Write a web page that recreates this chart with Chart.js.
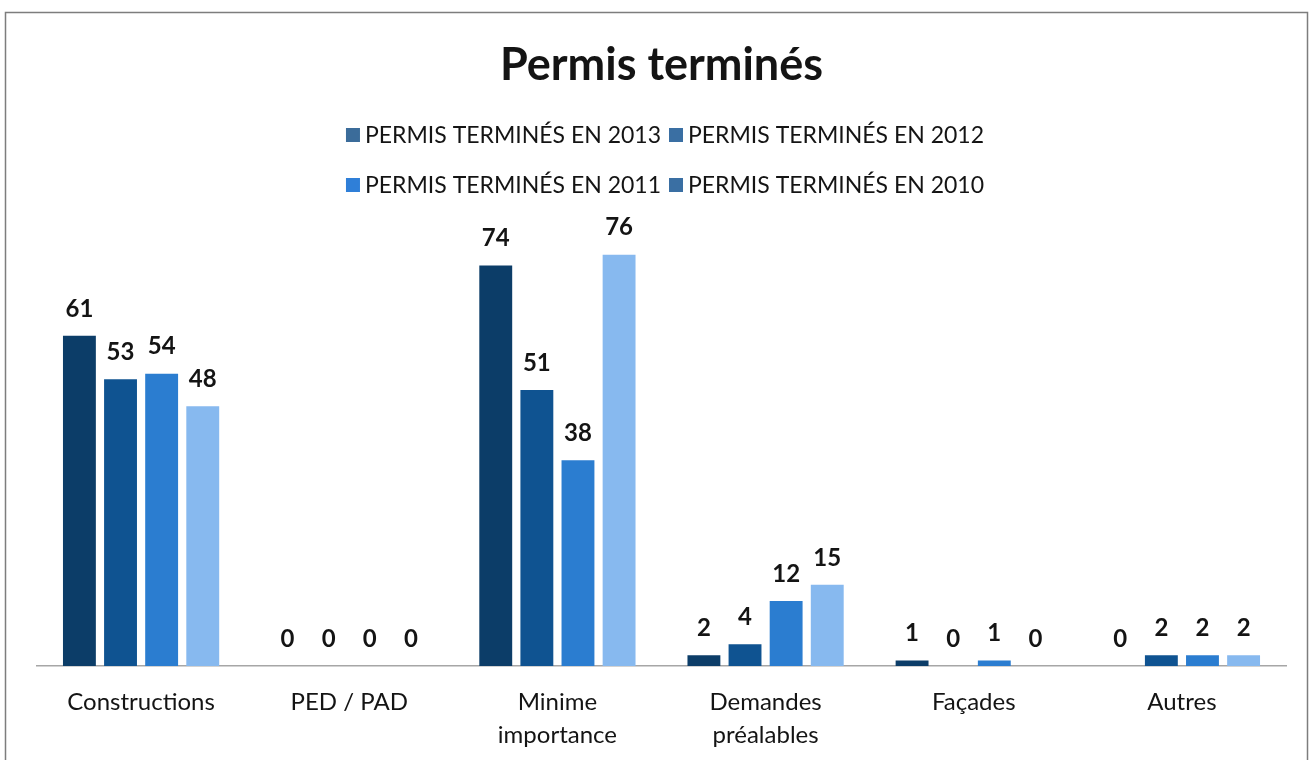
<!DOCTYPE html>
<html>
<head>
<meta charset="utf-8">
<script src="https://cdn.jsdelivr.net/npm/chart.js@4.4.0/dist/chart.umd.min.js"></script>
<style>
  html, body { margin: 0; padding: 0; background: #fff; }
  #wrap { width: 1312px; height: 760px; }
</style>
</head>
<body>
<div id="wrap"><canvas id="permis" width="1312" height="760"></canvas></div>
<script>
// Data
const categories = ['Constructions', 'PED / PAD', ['Minime', 'importance'], ['Demandes', 'préalables'], 'Façades', 'Autres']
const seriesNames = ['PERMIS TERMINÉS EN 2013', 'PERMIS TERMINÉS EN 2012', 'PERMIS TERMINÉS EN 2011', 'PERMIS TERMINÉS EN 2010']
const values2013 = [61, 0, 74, 2, 1, 0]
const values2012 = [53, 0, 51, 4, 0, 2]
const values2011 = [54, 0, 38, 12, 1, 2]
const values2010 = [48, 0, 76, 15, 0, 2]

const barColors = ['#0c3d68', '#0f5391', '#2b7dd0', '#87b9ef']
const legendColors = ['#3b6c9a', '#3a6fa3', '#2f7fd8', '#3a6fa3']
const FONT = 'Lato, "Open Sans", sans-serif'
const TEXT = '#141414'

const allValues = [values2013, values2012, values2011, values2010]

// frame around the whole picture
const framePlugin = {
    id: 'frame',
    beforeDraw(chart) {
        const ctx = chart.ctx
        ctx.save()
        ctx.strokeStyle = '#7d7d7d'
        ctx.lineWidth = 1.5
        ctx.strokeRect(5.5, 12.5, 1302, 800)
        ctx.restore()
    }
}

// value above each bar
const valueLabels = {
    id: 'valueLabels',
    afterDatasetsDraw(chart) {
        const ctx = chart.ctx
        ctx.save()
        ctx.font = 'bold 24px ' + FONT
        ctx.fillStyle = TEXT
        ctx.textAlign = 'center'
        ctx.textBaseline = 'middle'
        chart.data.datasets.forEach((ds, i) => {
            chart.getDatasetMeta(i).data.forEach((bar, j) => {
                ctx.fillText(String(ds.data[j]), bar.x, bar.y - 27)
            })
        })
        ctx.restore()
    }
}

// legend laid out as two rows of two, like the original
const twoRowLegend = {
    id: 'twoRowLegend',
    afterDraw(chart) {
        const ctx = chart.ctx
        const box = 14, gapText = 5, gapItem = 8
        ctx.save()
        ctx.font = '23px ' + FONT
        ctx.textBaseline = 'middle'
        const rows = [[0, 1], [2, 3]]
        const rowY = [135, 185]
        rows.forEach((row, r) => {
            const widths = row.map(k => box + gapText + ctx.measureText(seriesNames[k]).width)
            const total = widths.reduce((a, b) => a + b, 0) + gapItem * (row.length - 1)
            let x = 665 - total / 2
            row.forEach((k, n) => {
                ctx.fillStyle = legendColors[k]
                ctx.fillRect(x, rowY[r] - box / 2, box, box)
                ctx.fillStyle = TEXT
                ctx.fillText(seriesNames[k], x + box + gapText, rowY[r] + 1)
                x += widths[n] + gapItem
            })
        })
        ctx.restore()
    }
}

const config = {
    type: 'bar',
    data: {
        labels: categories,
        datasets: seriesNames.map((name, i) => ({
            label: name,
            data: allValues[i],
            backgroundColor: barColors[i],
            borderWidth: 0,
            categoryPercentage: 0.79,
            barPercentage: 0.8
        }))
    },
    options: {
        responsive: false,
        animation: false,
        layout: { padding: { left: 37, right: 26, top: 0, bottom: 0 } },
        plugins: {
            legend: { display: false },
            tooltip: { enabled: false },
            title: {
                display: true,
                text: 'Permis terminés',
                color: TEXT,
                font: { family: FONT, size: 45, weight: 'bold', lineHeight: 1.2 },
                padding: { top: 38, bottom: 141 }
            }
        },
        scales: {
            x: {
                grid: { display: false, drawTicks: false },
                border: { display: true, color: '#a6a6a6', width: 1.5 },
                ticks: {
                    color: TEXT,
                    font: { family: FONT, size: 24, lineHeight: 1.375 },
                    padding: 20,
                    maxRotation: 0,
                    autoSkip: false
                },
                afterFit(scale) { scale.height = 94 }
            },
            y: {
                display: false,
                min: 0,
                max: 80
            }
        }
    },
    plugins: [framePlugin, valueLabels, twoRowLegend]
}

const permisChart = new Chart(document.getElementById('permis'), config)
</script>
</body>
</html>
